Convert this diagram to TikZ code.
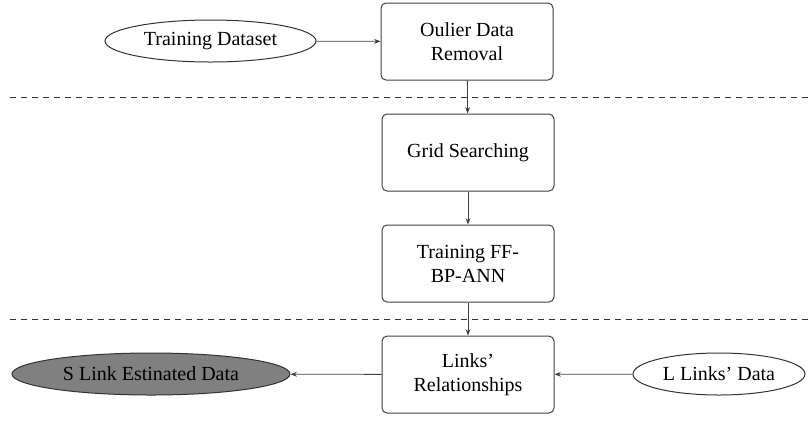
\documentclass[tikz,border=0pt]{standalone}
\usepackage{fontspec}
\setmainfont{Liberation Serif}
\usetikzlibrary{shapes.geometric,arrows.meta}
\begin{document}
\begin{tikzpicture}[x=0.5pt,y=-0.5pt,
  procbox/.style={draw=black!75,line width=0.5pt,rounded corners=2.5pt,minimum width=86pt,minimum height=38.5pt,align=center,font=\fontsize{10}{12}\selectfont,inner sep=2pt},
  dataell/.style={draw=black!80,line width=0.5pt,ellipse,font=\fontsize{10}{12}\selectfont,inner sep=0pt,minimum height=21pt},
  conn/.style={draw=black!75,line width=0.4pt,-{Stealth[length=3.2pt,width=2.4pt]}},
  sepline/.style={draw=black!80,line width=0.4pt,dash pattern=on 3pt off 2.5pt}]
\useasboundingbox (0,0) rectangle (809,420);
\node[procbox] (b1) at (467,41.5) {Oulier Data\\Removal};
\node[procbox] (b2) at (468,152.5) {Grid Searching};
\node[procbox] (b3) at (468,263.5) {Training FF-\\BP-ANN};
\node[procbox] (b4) at (468,374.5) {Links'\\Relationships};
\node[dataell,minimum width=105.5pt] (td) at (210.5,41) {Training Dataset};
\node[dataell,minimum width=139pt,fill=black!50] (sl) at (151,374) {S Link Estinated Data};
\node[dataell,minimum width=86pt] (ll) at (719,374) {L Links' Data};
\coordinate (d1a) at (10,97);
\coordinate (d1b) at (809,97);
\coordinate (d2a) at (10,319);
\coordinate (d2b) at (809,319);
\draw[sepline] (d1a) -- (d1b);
\draw[sepline] (d2a) -- (d2b);
\draw[conn] (td) -- (b1);
\draw[conn] (b1) -- (b2);
\draw[conn] (b2) -- (b3);
\draw[conn] (b3) -- (b4);
\draw[conn] (b4) -- (sl);
\draw[conn] (ll) -- (b4);
\end{tikzpicture}
\end{document}
